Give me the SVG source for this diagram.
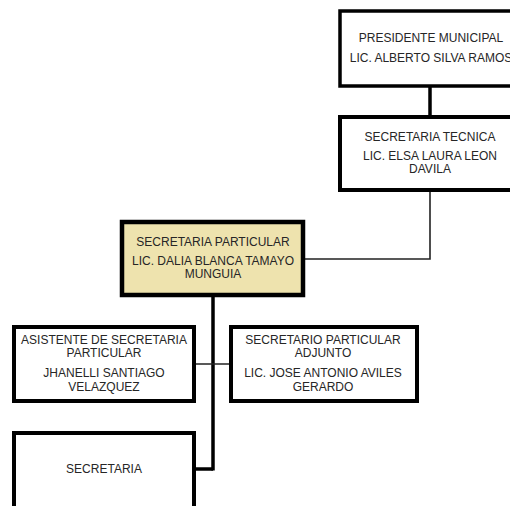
<svg xmlns="http://www.w3.org/2000/svg" width="510" height="506" viewBox="0 0 510 506">
<style>
.box{fill:#fff;stroke:#000;stroke-width:4}
.hl{fill:#EEE3AE}
.t{font-family:"Liberation Sans",Arial,sans-serif;font-size:12px;fill:#262626;text-anchor:middle}
.thick{stroke:#000;stroke-width:3.5;fill:none}
.thin{stroke:#222;stroke-width:1.6;fill:none}
</style>
<rect width="510" height="506" fill="#fff"/>
<g id="connectors">
<line class="thick" x1="430" y1="86" x2="430" y2="117"/>
<polyline class="thin" points="303,259 430,259 430,190"/>
<line class="thick" x1="213" y1="295" x2="213" y2="470.5"/>
<line class="thin" x1="194" y1="364" x2="231" y2="364"/>
<polyline class="thick" points="194,469 213,469"/>
</g>
<g id="presidente">
<rect class="box" x="340" y="11" width="190" height="75" style="stroke-width:3.5"/>
<text class="t" x="431" y="42">PRESIDENTE MUNICIPAL</text>
<text class="t" x="431" y="62">LIC. ALBERTO SILVA RAMOS</text>
</g>
<g id="tecnica">
<rect class="box" x="340" y="117" width="190" height="73"/>
<text class="t" x="430" y="141">SECRETARIA TECNICA</text>
<text class="t" x="430" y="160">LIC. ELSA LAURA LEON</text>
<text class="t" x="430" y="173">DAVILA</text>
</g>
<g id="particular">
<rect class="box hl" x="122" y="222" width="181" height="73" style="stroke-width:4.5"/>
<text class="t" x="213" y="246">SECRETARIA PARTICULAR</text>
<text class="t" x="213" y="265">LIC. DALIA BLANCA TAMAYO</text>
<text class="t" x="213" y="278">MUNGUIA</text>
</g>
<g id="asistente">
<rect class="box" x="14" y="327" width="180" height="74"/>
<text class="t" x="104" y="344">ASISTENTE DE SECRETARIA</text>
<text class="t" x="104" y="357">PARTICULAR</text>
<text class="t" x="104" y="377">JHANELLI SANTIAGO</text>
<text class="t" x="104" y="391">VELAZQUEZ</text>
</g>
<g id="adjunto">
<rect class="box" x="231" y="327" width="186" height="74"/>
<text class="t" x="323" y="344">SECRETARIO PARTICULAR</text>
<text class="t" x="323" y="357">ADJUNTO</text>
<text class="t" x="323" y="377">LIC. JOSE ANTONIO AVILES</text>
<text class="t" x="323" y="391">GERARDO</text>
</g>
<g id="secretaria">
<rect class="box" x="14" y="433" width="180" height="90"/>
<text class="t" x="104" y="473">SECRETARIA</text>
</g>
</svg>
